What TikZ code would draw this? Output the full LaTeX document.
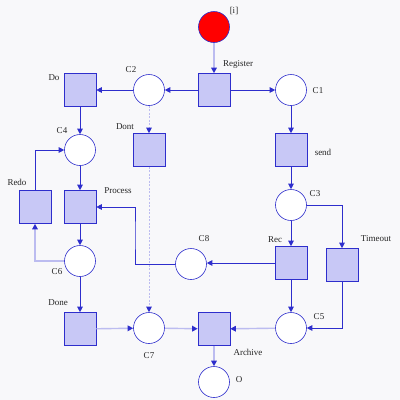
\documentclass[tikz,border=0pt]{standalone}
\usepackage{fontspec}
\setmainfont{Liberation Serif}
\usetikzlibrary{arrows.meta}
\definecolor{bg}{HTML}{F8F8FA}
\definecolor{dk}{HTML}{2E2ECC}
\definecolor{lt}{HTML}{BCBCF0}
\definecolor{tfill}{HTML}{C8C8F6}
\begin{document}
\begin{tikzpicture}[x=1pt,y=-1pt,
  place/.style={circle,draw=dk,fill=white,line width=0.6pt,minimum size=31pt,inner sep=0pt},
  trans/.style={rectangle,draw=dk,fill=tfill,line width=0.6pt,minimum width=32pt,minimum height=33pt,inner sep=0pt},
  lbl/.style={font=\fontsize{9}{10}\selectfont,text=black!85,inner sep=0pt},
  arc/.style={draw=dk,line width=0.7pt,-{Triangle[length=5.5pt,width=5.5pt,color=dk]}},
  larc/.style={draw=lt,line width=1.4pt,-{Triangle[length=5.5pt,width=5.5pt,color=dk]}},
  darc/.style={draw=lt,line width=0.8pt,dashed,dash pattern=on 2pt off 1.5pt,-{Triangle[length=5.5pt,width=5.5pt,color=dk]}}]
\fill[bg] (0,0) rectangle (400,400);
\useasboundingbox (0,0) rectangle (400,400);
% places
\node[place,fill=red] (i) at (214,27) {};
\node[place] (C1) at (291,90) {};
\node[place] (C2) at (149,90) {};
\node[place] (C4) at (80,150) {};
\node[place] (C3) at (291,205) {};
\node[place] (C6) at (80,261) {};
\node[place] (C8) at (191,264) {};
\node[place] (C7) at (149,328) {};
\node[place] (C5) at (291,328) {};
\node[place] (O) at (214,382) {};
% transitions
\node[trans] (Register) at (214,90) {};
\node[trans] (Do) at (80,90) {};
\node[trans] (Dont) at (149,150) {};
\node[trans] (send) at (291,150) {};
\node[trans] (Redo) at (35,207) {};
\node[trans] (Process) at (80,207) {};
\node[trans] (Rec) at (291,263) {};
\node[trans] (Timeout) at (342,265) {};
\node[trans] (Done) at (80,329) {};
\node[trans] (Archive) at (214,329) {};
% labels
\node[lbl] (li) at (234,11) {[i]};
\node[lbl] (lRegister) at (238,64) {Register};
\node[lbl] (lC1) at (318,91) {C1};
\node[lbl] (lC2) at (131,70) {C2};
\node[lbl] (lDo) at (54,78) {Do};
\node[lbl] (lC4) at (62,131) {C4};
\node[lbl] (lDont) at (125,127) {Dont};
\node[lbl] (lsend) at (323,152) {send};
\node[lbl] (lC3) at (315,194) {C3};
\node[lbl] (lRedo) at (17,182) {Redo};
\node[lbl] (lProcess) at (118,191) {Process};
\node[lbl] (lC6) at (57,272) {C6};
\node[lbl] (lC8) at (204,239) {C8};
\node[lbl] (lRec) at (275,240) {Rec};
\node[lbl] (lTimeout) at (376,239) {Timeout};
\node[lbl] (lDone) at (58,303) {Done};
\node[lbl] (lC7) at (149,356) {C7};
\node[lbl] (lC5) at (319,317) {C5};
\node[lbl] (lArchive) at (248,352) {Archive};
\node[lbl] (lO) at (239,380) {O};
% arcs
\draw[larc] (i) -- (Register);
\draw[arc] (Register) -- (C1);
\draw[arc] (Register) -- (C2);
\draw[arc] (C2) -- (Do);
\draw[arc] (Do) -- (C4);
\draw[darc] (C2) -- (Dont);
\draw[arc] (C1) -- (send);
\draw[arc] (send) -- (C3);
\draw[arc] (C4) -- (Process);
\draw[arc] (Process) -- (C6);
\draw[arc] (C6) -- (Done);
\draw[larc] (C6.west) -| (Redo.south);
\draw[arc] (Redo.north) |- (C4.west);
\draw[darc] (Dont) -- (C7);
\draw[larc] (Done) -- (C7);
\draw[larc] (C7) -- (Archive);
\draw[larc] (Archive) -- (O);
\draw[arc] (C3) -- (Rec);
\draw[arc] (C3.east) -| (Timeout.north);
\draw[arc] (Rec.west) -- (C8.east |- Rec.west);
\draw[arc] (C8.west) -| (135,235) |- (Process.east);
\draw[arc] (Rec) -- (C5);
\draw[arc] (Timeout.south) |- (C5.east);
\draw[larc] (C5) -- (Archive);
\end{tikzpicture}
\end{document}
